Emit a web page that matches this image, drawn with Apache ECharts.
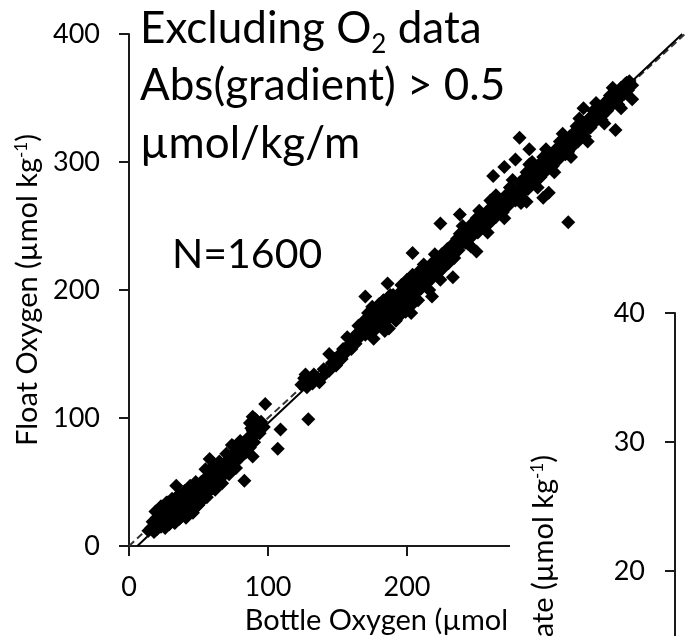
<!DOCTYPE html>
<html><head><meta charset="utf-8">
<script src="https://cdn.jsdelivr.net/npm/echarts@6/dist/echarts.min.js"></script>
<style>html,body{margin:0;padding:0;background:#fff}#c{width:685px;height:636px}</style>
</head><body><div id="c"></div>
<script>
// ---- data (Bottle O2, Float O2) in µmol/kg ----
const lowBlob = [[14,12],[16,14],[17,19],[18,11],[19,16],[20,22],[20,13],[21,18],[22,25],[23,15],[23,21],[24,28],[25,18],[25,24],[26,31],[26,14],[27,21],[28,27],[28,34],[29,17],[29,23],[30,30],[31,20],[31,36],[32,26],[33,32],[33,18],[34,23],[34,38],[35,29],[36,35],[36,21],[37,26],[38,32],[38,40],[39,24],[40,29],[40,36],[41,22],[42,33],[42,41],[43,27],[44,38],[45,31],[45,44],[46,26],[47,36],[48,42],[48,30],[49,47],[50,34],[50,40],
  [19,27],[23,31],[27,34],[31,37],[36,40],[40,43],[44,47],[48,50],[32,19],[37,22],[42,24],[46,28],[50,32],[53,36],[56,38],[60,45]];
const lowBand = [[51,45],[52,50],[53,39],[54,47],[55,53],[56,42],[57,49],[58,56],[59,45],[60,52],[61,58],[62,48],[63,55],[64,61],[65,51],[66,58],[67,63],[68,55],[69,61],[70,66],[71,58],[72,64],[73,70],[74,62],[75,68],[76,73],[77,66],[78,71],[79,77],[80,69],[81,75],[82,80],[84,73],[85,79],[86,85],[87,77],[88,83],[89,90],[90,81],[91,87],[92,94],[94,88],[95,97],[97,93],[87,96],[89,101],[91,99],[88,92],
  [55,60],[60,62],[65,66],[70,72],[75,78],[80,82],[62,44],[67,49],[72,56],[77,61]];
const midCluster = [[124,126],[126,131],[127,134],[128,124],[130,129],[132,127],[133,134],[135,131],[137,128],[139,132],[140,138],[142,136],[144,150],[144,137],[146,143],[148,146],[149,141],[151,149],[153,146],[154,154],[156,151],[157,163],[158,157],[160,154],[161,161],[163,158],[164,166]];
const band200 = [[165,172],[166,163],[168,168],[169,176],[170,165],[172,170],[173,178],[174,167],[176,172],[177,181],[178,170],[180,176],[181,184],[182,174],[184,180],[185,188],[186,177],[188,183],[189,192],[190,181],[192,187],[193,196],[194,185],[196,191],[197,200],[198,189],[200,195],[201,204],[202,193],[204,199],[205,208],[206,197],[208,203],[209,212],[210,201],[212,207],[213,216],[214,205],[216,211],[217,220],[218,209],[220,215],[221,224],[222,213],[224,219],[225,228],[226,217],[228,223],[229,232],[230,221],[232,227],[233,236],[234,225],[183,192],[190,196],[195,180],[200,208],[205,190],[210,216],[187,170],[199,183],
  [172,182],[176,162],[180,189],[184,168],[188,196],[192,176],[196,204],[200,185],[204,212],[208,192],[212,220],[216,200],[220,228],[224,208],[175,187],[203,182]];
const band300 = [[236,240],[237,231],[239,236],[240,245],[242,237],[243,242],[245,250],[246,241],[248,246],[249,254],[251,245],[252,250],[254,258],[255,249],[257,254],[258,262],[260,253],[261,258],[263,266],[264,257],[266,262],[267,270],[269,261],[270,266],[272,275],[273,266],[275,271],[276,279],[278,270],[279,275],[281,284],[282,275],[284,280],[285,288],[287,279],[288,284],[290,293],[291,284],[293,289],[294,297],[296,288],[297,293],[299,302],[300,293],[302,298],[303,306],[305,297],[306,302],[308,311],[309,302],[311,307],[312,315],[314,306],[315,311],[317,320],[318,311],[320,316],[321,324],[323,316],[324,320],[326,329],[327,320],[329,325],[330,333],[332,327],[333,336],[335,331],[336,340],[338,334],[339,343],[341,337],[342,346],[344,340],[345,349],[347,344],[348,352],[350,347],[351,355],[353,350],[354,358],[356,353],[357,361],[359,356],[360,363],[362,360],
  [240,250],[246,234],[252,262],[258,245],[264,274],[270,256],[276,286],[282,268],[288,298],[294,280],[300,310],[306,292],[312,322],[318,304],[324,334],[330,316],[336,346],[342,330],[348,358],[354,342],[260,270],[290,300],
  [238,244],[244,236],[250,256],[256,249],[262,268],[268,260],[274,280],[280,272],[286,292],[292,284],[298,304],[304,296],[310,316],[316,308],[322,328],[328,320],[334,340],[340,333],[346,352],[352,345],[358,362]];
const outliers = [[34,47],[58,68],[83,51],[74,79],[98,111],[107,76],[109,91],[129,99],[89,70],[170,195],[186,205],[204,229],[218,195],[233,210],[224,252],[250,230],[238,259],[262,289],[270,296],[278,302],[281,319],[288,310],[298,272],[302,276],[286,269],[316,253],[327,342],[350,325],[362,349]];
const oneToOneLine = [[0,0],[400,400]];
const regressionLine = [[6,0],[398,400]];
const oxygenTicks = {min:0, max:400, step:100};
const nitrateTicks = {min:0, max:40, step:10};
const annotationLines = ['Excluding O{sub|2} data','Abs(gradient) > 0.5','µmol/kg/m'];
const countLabel = 'N=1600';

const FONT = 'Lato';
const AX = '#1a1a1a';
const chart = echarts.init(document.getElementById('c'), null, {renderer:'canvas'});
const axisCommon = {
  axisLine:{lineStyle:{color:AX,width:2}, onZero:false},
  axisTick:{length:10, lineStyle:{color:AX,width:2}},
  splitLine:{show:false},
  axisLabel:{color:'#000', fontFamily:FONT, fontSize:27},
  nameTextStyle:{color:'#000', fontFamily:FONT, fontSize:29, rich:{s:{fontFamily:FONT,fontSize:17,color:'#000',verticalAlign:'top'}}}
};
const allPoints = [].concat(lowBlob, lowBand, midCluster, band200, band300, outliers);
chart.setOption({
  animation:false,
  backgroundColor:'#fff',
  grid:[
    {left:129, right:0, top:34, bottom:90, containLabel:false, outerBoundsMode:'none'},
    {left:510, right:0, top:313, height:516, show:true, backgroundColor:'#fff', borderWidth:0, z:10, containLabel:false, outerBoundsMode:'none'}
  ],
  xAxis:[
    Object.assign({}, axisCommon, {type:'value', gridIndex:0, min:oxygenTicks.min, max:oxygenTicks.max, interval:oxygenTicks.step,
      name:'Bottle Oxygen (µmol kg{s|-1})', nameLocation:'middle', nameGap:34,
      axisLabel:Object.assign({}, axisCommon.axisLabel, {margin:28})}),
    {type:'value', gridIndex:1, min:0, max:1, show:false}
  ],
  yAxis:[
    Object.assign({}, axisCommon, {type:'value', gridIndex:0, min:oxygenTicks.min, max:oxygenTicks.max, interval:oxygenTicks.step,
      name:'Float Oxygen (µmol kg{s|-1})', nameLocation:'middle', nameGap:86,
      axisLabel:Object.assign({}, axisCommon.axisLabel, {margin:29})}),
    Object.assign({}, axisCommon, {type:'value', gridIndex:1, min:nitrateTicks.min, max:nitrateTicks.max, interval:nitrateTicks.step,
      position:'left', offset:-165, z:11,
      name:'Nitrate (µmol kg{s|-1})', nameLocation:'middle', nameGap:117,
      axisLabel:Object.assign({}, axisCommon.axisLabel, {margin:30})})
  ],
  series:[
    {type:'line', xAxisIndex:0, yAxisIndex:0, data:oneToOneLine, showSymbol:false, symbol:'none',
      lineStyle:{color:'#333', width:2, type:[7,4]}, z:1},
    {type:'line', xAxisIndex:0, yAxisIndex:0, data:regressionLine, showSymbol:false, symbol:'none',
      lineStyle:{color:'#000', width:2}, z:1},
    {type:'scatter', xAxisIndex:0, yAxisIndex:0, data:allPoints, symbol:'diamond', symbolSize:14,
      itemStyle:{color:'#000', opacity:1}, z:2}
  ],
  graphic:[
    {type:'text', x:140, y:0, z:20, style:{text:annotationLines.join('\n'), fill:'#000', fontFamily:FONT, fontSize:44, lineHeight:57.5,
      rich:{sub:{fontFamily:FONT, fontSize:26, lineHeight:26, fill:'#000', verticalAlign:'bottom'}}}},
    {type:'text', x:172, y:234, z:20, style:{text:countLabel, fill:'#000', fontFamily:FONT, fontSize:41}}
  ]
});
</script></body></html>
